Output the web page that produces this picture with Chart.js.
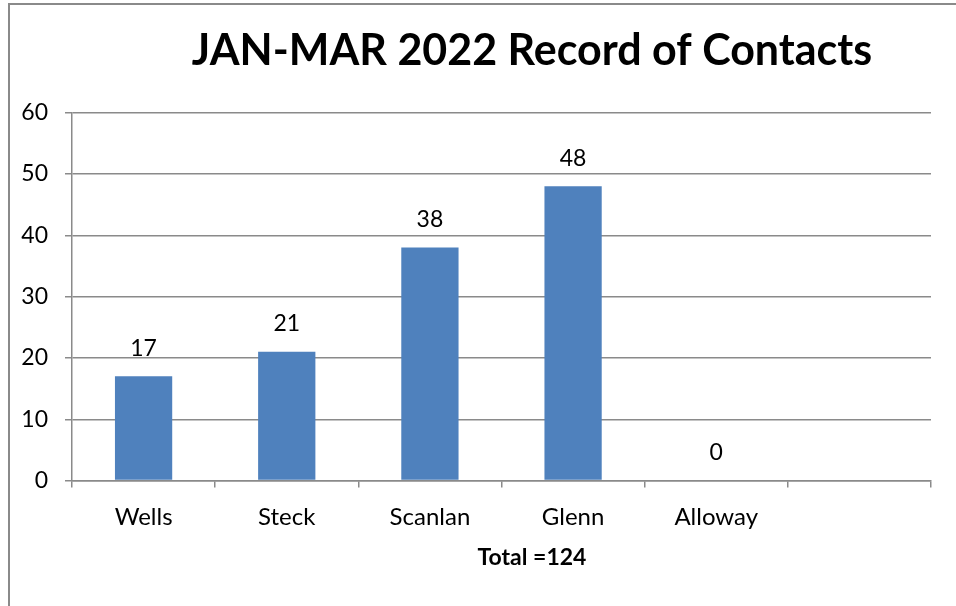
<!DOCTYPE html>
<html>
<head>
<meta charset="utf-8">
<script src="https://cdn.jsdelivr.net/npm/chart.js@4/dist/chart.umd.min.js"></script>
<style>
  html, body { margin: 0; padding: 0; background: #fff; overflow: hidden; }
  #frame { position: absolute; left: 8px; top: 3px; width: 2000px; height: 2000px; border: 2px solid #8a8a8a; }
  #wrap { position: absolute; left: 0; top: 0; width: 1064px; height: 640px; }
</style>
</head>
<body>
<div id="frame"></div>
<div id="wrap"><canvas id="contacts"></canvas></div>
<script>
const staff = ['Wells', 'Steck', 'Scanlan', 'Glenn', 'Alloway', '']
const contacts = [17, 21, 38, 48, 0, null]
const yTicks = [0, 10, 20, 30, 40, 50, 60]

const total = contacts.reduce((s, v) => s + (v || 0), 0)
const gray = '#8a8a8a'
const font = 'Lato'

// values over the bars, like the excel data labels
const barValues = {
    id: 'barValues',
    afterDatasetsDraw(chart) {
        const ctx = chart.ctx
        const meta = chart.getDatasetMeta(0)
        ctx.save()
        ctx.font = '23px ' + font
        ctx.fillStyle = '#000'
        ctx.textAlign = 'center'
        ctx.textBaseline = 'middle'
        meta.data.forEach((bar, i) => {
            if (contacts[i] === null) return
            ctx.fillText(contacts[i], bar.x, bar.y - 28)
        })
        ctx.restore()
    }
}

new Chart(document.getElementById('contacts'), {
    type: 'bar',
    data: {
        labels: staff,
        datasets: [{
            data: contacts,
            backgroundColor: '#4f81bd',
            borderWidth: 0,
            categoryPercentage: 1,
            barPercentage: 0.4
        }]
    },
    options: {
        responsive: true,
        maintainAspectRatio: false,
        animation: false,
        layout: { padding: { left: 0, right: 0, top: 0, bottom: 69 } },
        plugins: {
            legend: { display: false },
            tooltip: { enabled: false },
            title: {
                display: true,
                text: 'JAN-MAR 2022 Record of Contacts',
                color: '#000',
                font: { family: font, size: 43, weight: 'bold' },
                padding: { top: 25, bottom: 36 }
            },
            subtitle: {
                display: true,
                position: 'bottom',
                text: 'Total =' + total,
                color: '#000',
                font: { family: font, size: 23, weight: 'bold' },
                padding: { top: -3, bottom: 0 }
            }
        },
        scales: {
            x: {
                offset: true,
                grid: { display: true, drawOnChartArea: false, drawTicks: true, tickLength: 7, color: gray, lineWidth: 1.5, offset: true },
                border: { display: true, color: gray, width: 1.5 },
                ticks: { color: '#000', font: { family: font, size: 24 }, padding: 15 }
            },
            y: {
                min: 0,
                max: 60,
                afterBuildTicks: (scale) => { scale.ticks = yTicks.map(v => ({ value: v })) },
                afterFit: (scale) => { scale.width = 72 },
                grid: { color: gray, lineWidth: 1.5, tickLength: 7 },
                border: { display: true, color: gray, width: 1.5 },
                ticks: { color: '#000', font: { family: font, size: 23 }, padding: 17 }
            },
            // empty strip on the right, the reference chart runs past the window
            spare: {
                type: 'linear',
                position: 'right',
                display: true,
                grid: { display: false },
                border: { display: false },
                ticks: { display: false },
                afterFit: (scale) => { scale.width = 133 }
            }
        }
    },
    plugins: [barValues]
})
</script>
</body>
</html>
